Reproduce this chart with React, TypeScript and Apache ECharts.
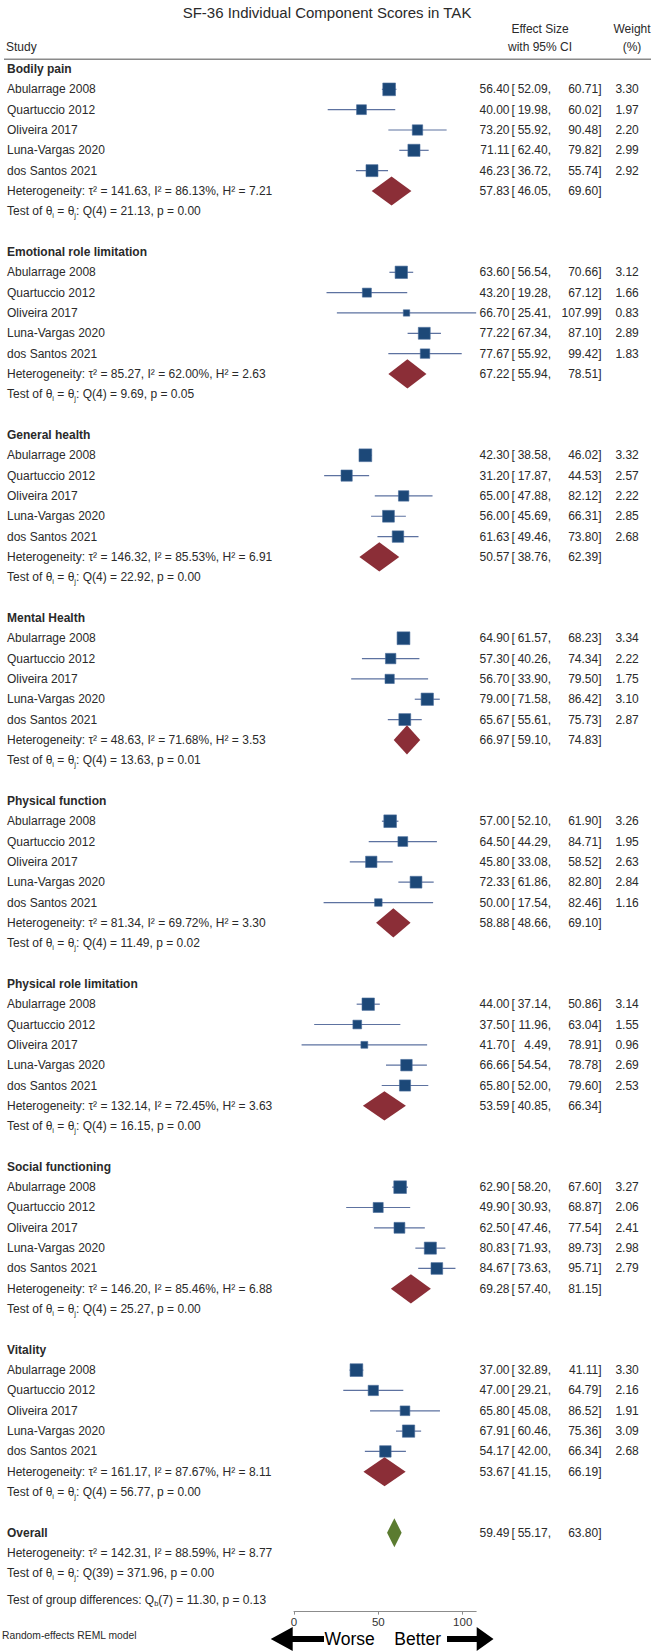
import React, { useEffect, useRef } from "react";
import * as echarts from "echarts";

// ---------- data ----------
const groupNames = [
  "Bodily pain",
  "Emotional role limitation",
  "General health",
  "Mental Health",
  "Physical function",
  "Physical role limitation",
  "Social functioning",
  "Vitality",
];
const studyNames = ["Abularrage 2008", "Quartuccio 2012", "Oliveira 2017", "Luna-Vargas 2020", "dos Santos 2021"];

const studyES = [
  [56.4, 40.0, 73.2, 71.11, 46.23],
  [63.6, 43.2, 66.7, 77.22, 77.67],
  [42.3, 31.2, 65.0, 56.0, 61.63],
  [64.9, 57.3, 56.7, 79.0, 65.67],
  [57.0, 64.5, 45.8, 72.33, 50.0],
  [44.0, 37.5, 41.7, 66.66, 65.8],
  [62.9, 49.9, 62.5, 80.83, 84.67],
  [37.0, 47.0, 65.8, 67.91, 54.17],
];
const studyLower = [
  [52.09, 19.98, 55.92, 62.4, 36.72],
  [56.54, 19.28, 25.41, 67.34, 55.92],
  [38.58, 17.87, 47.88, 45.69, 49.46],
  [61.57, 40.26, 33.9, 71.58, 55.61],
  [52.1, 44.29, 33.08, 61.86, 17.54],
  [37.14, 11.96, 4.49, 54.54, 52.0],
  [58.2, 30.93, 47.46, 71.93, 73.63],
  [32.89, 29.21, 45.08, 60.46, 42.0],
];
const studyUpper = [
  [60.71, 60.02, 90.48, 79.82, 55.74],
  [70.66, 67.12, 107.99, 87.1, 99.42],
  [46.02, 44.53, 82.12, 66.31, 73.8],
  [68.23, 74.34, 79.5, 86.42, 75.73],
  [61.9, 84.71, 58.52, 82.8, 82.46],
  [50.86, 63.04, 78.91, 78.78, 79.6],
  [67.6, 68.87, 77.54, 89.73, 95.71],
  [41.11, 64.79, 86.52, 75.36, 66.34],
];
const studyWeight = [
  [3.3, 1.97, 2.2, 2.99, 2.92],
  [3.12, 1.66, 0.83, 2.89, 1.83],
  [3.32, 2.57, 2.22, 2.85, 2.68],
  [3.34, 2.22, 1.75, 3.1, 2.87],
  [3.26, 1.95, 2.63, 2.84, 1.16],
  [3.14, 1.55, 0.96, 2.69, 2.53],
  [3.27, 2.06, 2.41, 2.98, 2.79],
  [3.3, 2.16, 1.91, 3.09, 2.68],
];

const groupES = [57.83, 67.22, 50.57, 66.97, 58.88, 53.59, 69.28, 53.67];
const groupLower = [46.05, 55.94, 38.76, 59.1, 48.66, 40.85, 57.4, 41.15];
const groupUpper = [69.6, 78.51, 62.39, 74.83, 69.1, 66.34, 81.15, 66.19];
const groupTau2 = [141.63, 85.27, 146.32, 48.63, 81.34, 132.14, 146.2, 161.17];
const groupI2 = [86.13, 62.0, 85.53, 71.68, 69.72, 72.45, 85.46, 87.67];
const groupH2 = [7.21, 2.63, 6.91, 3.53, 3.3, 3.63, 6.88, 8.11];
const groupQ = [21.13, 9.69, 22.92, 13.63, 11.49, 16.15, 25.27, 56.77];
const groupQdf = [4, 4, 4, 4, 4, 4, 4, 4];
const groupP = [0.0, 0.05, 0.0, 0.01, 0.02, 0.0, 0.0, 0.0];

const overallES = 59.49;
const overallLower = 55.17;
const overallUpper = 63.8;
const overallTau2 = 142.31;
const overallI2 = 88.59;
const overallH2 = 8.77;
const overallQ = 371.96;
const overallQdf = 39;
const overallP = 0.0;

const groupDiffQ = 11.3;
const groupDiffDf = 7;
const groupDiffP = 0.13;

const axisTickValues = [0, 50, 100];

// ---------- style ----------
const FONT = "'Liberation Sans', Arial, Helvetica, sans-serif";
const TEXT = "#2a2a2a";
const SQUARE = "#1c4878";
const SQUARE_EDGE = "#4a6c9a";
const CI = "#5d72a0";
const DIAMOND = "#8b2e37";
const OVERALL_DIAMOND = "#5b7b30";

const ROWS_PER_GROUP = 9;
const OVERALL_ROW = groupNames.length * ROWS_PER_GROUP;
const GDIFF_ROW = OVERALL_ROW + 3.3;
const Y_MIN = -1;
const Y_MAX = 75.88;
const ROW_PX = 20.33;
const PX_PER_UNIT = 1.687;
const X_MAX = Math.max(...studyUpper.flat());

const f2 = (v: number) => v.toFixed(2);

type TextRow = {
  row: number;
  left: string;
  bold?: boolean;
  es?: number;
  lo?: number;
  hi?: number;
  w?: number;
};

function buildTextRows(): TextRow[] {
  const rows: TextRow[] = [];
  groupNames.forEach((g, gi) => {
    const base = gi * ROWS_PER_GROUP;
    rows.push({ row: base, left: g, bold: true });
    studyNames.forEach((s, si) => {
      rows.push({
        row: base + 1 + si,
        left: s,
        es: studyES[gi][si],
        lo: studyLower[gi][si],
        hi: studyUpper[gi][si],
        w: studyWeight[gi][si],
      });
    });
    rows.push({
      row: base + 6,
      left: `Heterogeneity: τ² = ${f2(groupTau2[gi])}, I² = ${f2(groupI2[gi])}%, H² = ${f2(groupH2[gi])}`,
      es: groupES[gi],
      lo: groupLower[gi],
      hi: groupUpper[gi],
    });
    rows.push({
      row: base + 7,
      left: `Test of θ{sub|i} = θ{sub|j}: Q(${groupQdf[gi]}) = ${f2(groupQ[gi])}, p = ${f2(groupP[gi])}`,
    });
  });
  rows.push({ row: OVERALL_ROW, left: "Overall", bold: true, es: overallES, lo: overallLower, hi: overallUpper });
  rows.push({
    row: OVERALL_ROW + 1,
    left: `Heterogeneity: τ² = ${f2(overallTau2)}, I² = ${f2(overallI2)}%, H² = ${f2(overallH2)}`,
  });
  rows.push({
    row: OVERALL_ROW + 2,
    left: `Test of θ{sub|i} = θ{sub|j}: Q(${overallQdf}) = ${f2(overallQ)}, p = ${f2(overallP)}`,
  });
  rows.push({
    row: GDIFF_ROW,
    left: `Test of group differences: Q{sub|b}(${groupDiffDf}) = ${f2(groupDiffQ)}, p = ${f2(groupDiffP)}`,
  });
  return rows;
}

const richSub = {
  sub: { fontSize: 7.5, lineHeight: 8, verticalAlign: "bottom" as const, fill: TEXT, fontFamily: FONT },
};

function txt(x: number, y: number, text: string, opts: any = {}) {
  return {
    type: "text",
    x,
    y,
    silent: true,
    style: {
      text,
      fill: TEXT,
      fontFamily: FONT,
      fontSize: 12,
      align: "left",
      verticalAlign: "middle",
      ...opts,
    },
  };
}

export default function App() {
  const ref = useRef<HTMLDivElement>(null);

  useEffect(() => {
    if (!ref.current) return;
    const chart = echarts.init(ref.current, undefined, { renderer: "svg" });

    const textRows = buildTextRows();

    const studyData: number[][] = [];
    groupNames.forEach((_, gi) => {
      studyNames.forEach((__, si) => {
        studyData.push([
          studyES[gi][si],
          gi * ROWS_PER_GROUP + 1 + si,
          studyLower[gi][si],
          studyUpper[gi][si],
          studyWeight[gi][si],
        ]);
      });
    });

    const diamondData: number[][] = groupNames.map((_, gi) => [
      groupES[gi],
      gi * ROWS_PER_GROUP + 6,
      groupLower[gi],
      groupUpper[gi],
      0,
    ]);
    diamondData.push([overallES, OVERALL_ROW, overallLower, overallUpper, 1]);

    const gridLeft = 294;
    const gridTop = 48.67;

    const option: any = {
      animation: false,
      backgroundColor: "#fff",
      grid: {
        left: gridLeft,
        top: gridTop,
        width: X_MAX * PX_PER_UNIT,
        height: (Y_MAX - Y_MIN) * ROW_PX,
        containLabel: false,
      },
      xAxis: {
        type: "value",
        min: 0,
        max: X_MAX,
        position: "bottom",
        splitLine: { show: false },
        axisLine: { show: true, onZero: false, lineStyle: { color: "#8c8c8c", width: 1 } },
        axisTick: {
          show: true,
          length: 3,
          inside: false,
          customValues: axisTickValues,
          lineStyle: { color: "#8c8c8c", width: 1 },
        },
        axisLabel: {
          show: true,
          customValues: axisTickValues,
          margin: 4,
          color: "#333",
          fontSize: 11.5,
          fontFamily: FONT,
        },
      },
      yAxis: {
        type: "value",
        inverse: true,
        min: Y_MIN,
        max: Y_MAX,
        show: false,
      },
      series: [
        {
          type: "custom",
          name: "studies",
          clip: false,
          data: studyData,
          renderItem: (_p: any, api: any) => {
            const es = api.value(0);
            const row = api.value(1);
            const lo = api.value(2);
            const hi = api.value(3);
            const w = api.value(4);
            const c = api.coord([es, row]);
            const l = api.coord([lo, row]);
            const h = api.coord([hi, row]);
            const side = 7 * Math.sqrt(w);
            return {
              type: "group",
              children: [
                {
                  type: "line",
                  shape: { x1: l[0], y1: c[1], x2: h[0], y2: c[1] },
                  style: { stroke: CI, lineWidth: 1.2 },
                },
                {
                  type: "rect",
                  shape: { x: c[0] - side / 2, y: c[1] - side / 2, width: side, height: side },
                  style: { fill: SQUARE, stroke: SQUARE_EDGE, lineWidth: 0.6 },
                },
              ],
            };
          },
        },
        {
          type: "custom",
          name: "diamonds",
          clip: false,
          data: diamondData,
          renderItem: (_p: any, api: any) => {
            const es = api.value(0);
            const row = api.value(1);
            const lo = api.value(2);
            const hi = api.value(3);
            const isOverall = api.value(4) === 1;
            const c = api.coord([es, row]);
            const l = api.coord([lo, row]);
            const h = api.coord([hi, row]);
            const half = 14.6;
            return {
              type: "polygon",
              shape: {
                points: [
                  [l[0], c[1]],
                  [c[0], c[1] - half],
                  [h[0], c[1]],
                  [c[0], c[1] + half],
                ],
              },
              style: { fill: isOverall ? OVERALL_DIAMOND : DIAMOND },
            };
          },
        },
        {
          type: "custom",
          name: "texts",
          clip: false,
          silent: true,
          data: textRows.map((t, i) => [0, t.row, i]),
          renderItem: (_p: any, api: any) => {
            const t = textRows[api.value(2)];
            const y = api.coord([0, t.row])[1];
            const children: any[] = [];
            children.push(
              txt(7, y, t.left, {
                fontWeight: t.bold ? "bold" : "normal",
                rich: richSub,
                lineHeight: 16,
              })
            );
            if (t.es !== undefined) {
              children.push(txt(509.5, y, f2(t.es), { align: "right" }));
              children.push(txt(511.5, y, "[", { align: "left" }));
              children.push(txt(551, y, f2(t.lo as number) + ",", { align: "right" }));
              children.push(txt(601.5, y, f2(t.hi as number) + "]", { align: "right" }));
            }
            if (t.w !== undefined) {
              children.push(txt(638.8, y, f2(t.w), { align: "right" }));
            }
            return { type: "group", children };
          },
        },
      ],
      graphic: [
        txt(327, 12, "SF-36 Individual Component Scores in TAK", { align: "center", fontSize: 15 }),
        txt(540, 29, "Effect Size", { align: "center" }),
        txt(540, 46.7, "with 95% CI", { align: "center" }),
        txt(632, 29, "Weight", { align: "center" }),
        txt(632, 46.7, "(%)", { align: "center" }),
        txt(6, 46.7, "Study"),
        {
          type: "line",
          silent: true,
          shape: { x1: 4, y1: 59.3, x2: 651, y2: 59.3 },
          style: { stroke: "#8a8a8a", lineWidth: 1.5 },
        },
        txt(2, 1635, "Random-effects REML model", { fontSize: 10.3 }),
        {
          type: "polygon",
          silent: true,
          shape: {
            points: [
              [270.7, 1639],
              [292.7, 1627],
              [292.7, 1636],
              [324, 1636],
              [324, 1642],
              [292.7, 1642],
              [292.7, 1651],
            ],
          },
          style: { fill: "#000" },
        },
        {
          type: "polygon",
          silent: true,
          shape: {
            points: [
              [447, 1636],
              [476.7, 1636],
              [476.7, 1627],
              [493.5, 1639],
              [476.7, 1651],
              [476.7, 1642],
              [447, 1642],
            ],
          },
          style: { fill: "#000" },
        },
        txt(324.5, 1639, "Worse", { fontSize: 17.5, fill: "#000" }),
        txt(441, 1639, "Better", { fontSize: 17.5, fill: "#000", align: "right" }),
      ],
    };

    chart.setOption(option);
    return () => chart.dispose();
  }, []);

  return (
    <div
      ref={ref}
      style={{ position: "absolute", left: 0, top: 0, width: 654, height: 1652, background: "#fff" }}
    />
  );
}
